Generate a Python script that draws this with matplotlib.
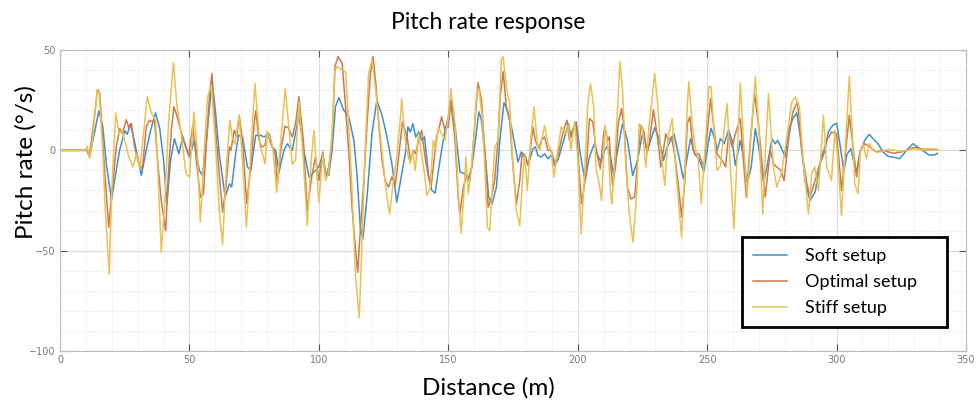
import matplotlib
matplotlib.use("Agg")
import matplotlib.pyplot as plt
from matplotlib.ticker import MultipleLocator

# ---- data ----
soft_x = [0, 10.5, 11.5, 13.5, 15, 16.5, 18, 19.9, 21.5, 23, 25, 26, 27.2, 29, 31.4, 33.3, 35, 36.9, 38.5, 40,
          41.3, 42.7, 44.2, 45.9, 47.4, 50, 51.9, 53.8, 55.1, 56.4, 58.7, 60, 61.5, 63.8, 65.4, 66.3, 68, 69,
          70.5, 72.4, 73.7, 75.6, 77.5, 78.8, 80.8, 82, 83.3, 84.6, 86.5, 87.8, 89.7, 92.3, 94.2, 96.2, 98.1,
          100, 101.5, 102.6, 103.8, 105.1, 106.4, 107.7, 109.6, 111.5, 113.5, 114.7, 116, 117, 118.6, 120.5,
          122.4, 124.4, 126.3, 128.2, 130.1, 132, 133.6, 134.4, 135.3, 136.3, 137.4, 138.5, 139.7, 140.8,
          142.3, 143.6, 144.9, 146.2, 147.4, 148.7, 150, 151, 152.6, 154.5, 156.4, 157.7, 159, 160.3, 161.8,
          162.8, 164.4, 165.6, 166.9, 168.6, 169.9, 171.5, 172.8, 174.4, 175.6, 176.9, 178.2, 179.7, 180.8,
          182.7, 183.6, 184.6, 185.9, 187.2, 188.5, 189.7, 191, 192.3, 194.2, 195.5, 196.4, 197.4, 199.4,
          201, 202.8, 204.5, 206.4, 207.7, 209, 210.3, 211.3, 212.2, 213.8, 215.4, 217.3, 219.2, 221.2,
          223.1, 225, 226.9, 228.2, 229.7, 231.4, 233.1, 234.6, 237.2, 239.1, 240.8, 242.3, 243.6, 245.1,
          246.8, 248.7, 250.6, 251.5, 252.6, 253.8, 255.1, 256.5, 258.3, 259.6, 260.9, 262.8, 264, 265.4,
          267, 268.6, 269.9, 271.8, 273.1, 275, 276.3, 277.2, 278.5, 280.1, 281.4, 283.1, 284.6, 286.2,
          287.8, 289.7, 291.7, 293.6, 295.5, 296.8, 298.5, 300, 301.3, 302.8, 304, 305.5, 306.5, 307.7,
          309.2, 310.9, 312.6, 313.5, 314.7, 316, 317.9, 319.9, 322.4, 324.4, 327, 329.5, 332, 336, 338, 339]
soft_y = [0, 0, -2.5, 10, 19.7, 12, -8, -24.7, -11.7, 0, 9.7, 8, 13.3, 3, -12.5, 0, 10, 18.7, 11, -5,
          -26.3, -5, 5.8, -1.7, 6.7, -3.3, 5.3, -10, -12.5, 3.3, 34.2, 20, -1.7, -23.3, -16.7, -18.3, 0, 7.5,
          6.7, -8.3, -10, 7.5, 7.5, 6.7, 8.3, 1.7, 0, -10.8, 0, 3.3, 0, 17.5, 0, -13.3, -10.8,
          -8.3, -1.7, -11.7, -12.5, 0, 21.7, 26.3, 20, 17, 5, -11.7, -38.3, -44.2, -23.3, 8.3,
          25, 17.5, 6.7, -6.7, -25.8, -11.7, 0, 11.7, 9.2, 13.3, 6.7, 9.2, 5, 6.7,
          -11.7, -20, -21.3, -10, 0, 10, 16.7, 25, 11.7, -10.8, -11.7, -14, -9, 3.3, 19.2,
          15, -5, -23.3, -26.7, -18.3, 5, 23.7, 20, 11.7, 3.3, -5.8, -0.8, -2.5, -7.5,
          0.8, 1.7, -2.5, -3.3, -1.7, -4.2, -2.5, -7.5, -5, 3.3, 9.2, 13.3, 6.7, 14.2,
          -2, -15, -3.3, 3.3, -2.5, -5.8, 0, 1.7, 0, -11.7, 0, 13.3, 5, -12.5,
          -5, 8.3, 0, 5, 11.3, 5.8, -5, 1.7, 8.3, -3.3, -14.2, -3.3, 5.8, -1.7,
          -4.2, -10.8, 5, 11, 6.7, 0, 5.8, 3.3, 10, 5, -7.5, 5, -3.3, -16.7,
          -8.3, 10.8, 1.7, -15.8, -8.3, 5.8, 3.3, 5, 1.7, -3.3, 10, 15.8, 18.7, 5,
          -15, -25, -20.8, -6.7, 0, 9.2, 12.5, 13.5, 3, -10.5, -2, 0.8, -5, -10.8,
          0, 5, 8, 6.7, 5, 3.3, -0.8, -3, -3.5, -4.2, 0, 3.3, 1, -2.5, -2.2, -1.5]

optimal_x = [0, 10.5, 11.3, 12.8, 14.5, 15.4, 16.7, 18.8, 20.5, 21.8, 23.1, 24.1, 25.6, 26.7, 27.6, 28.8,
             30.1, 31, 31.8, 32.5, 33.3, 34.6, 35.6, 36.5, 37.8, 39.1, 40.8, 42, 43, 44, 45.1, 46.8, 48.5,
             49.7, 51.3, 52.8, 54.2, 55.4, 56.7, 57.9, 58.7, 60, 61.5, 62.8, 64.1, 65.4, 66, 67.3, 68.3,
             69.2, 70.5, 72.1, 73.7, 75, 75.6, 76.9, 77.9, 79.2, 80.1, 81.4, 83.1, 84, 85.3, 86.9, 88.2,
             89.7, 91, 92.3, 94, 95.5, 97.2, 98.7, 100, 101.5, 102.6, 103.8, 105.1, 106.2, 107.4, 109,
             110.3, 111.5, 112.8, 114.1, 115, 116, 117.3, 118.6, 119.9, 120.9, 122, 123.1, 124.4, 125.6,
             126.9, 128.2, 129.5, 130.8, 132.3, 133.3, 134.3, 135.3, 136.5, 137.4, 138.5, 139.7, 141,
             142.3, 143.3, 144.2, 145.5, 146.4, 147.4, 148.5, 150, 151, 152.6, 153.8, 154.5, 155.8, 157.1,
             157.9, 159, 160.3, 161.5, 162.8, 164.1, 165.4, 166.7, 167.9, 169.2, 170.1, 171.2, 172.4,
             173.7, 175, 176.3, 177.6, 178.5, 179.7, 181, 182.7, 183.6, 184.9, 186, 187.2, 188.5, 189.7,
             191, 192.3, 193.6, 194.9, 195.9, 196.8, 198.1, 199.4, 200.6, 201.5, 203.2, 204.5, 205.8,
             207.1, 208.7, 210, 210.5, 211.5, 212.2, 212.8, 213.5, 214.7, 215.6, 216.9, 217.9, 219.2,
             220.5, 222, 223.1, 224.4, 225.6, 226.7, 227.6, 229.2, 230.8, 232.1, 233.1, 234, 234.9, 236.2,
             237.4, 239.1, 240.1, 241.3, 242.3, 243.3, 244.6, 245.5, 246.8, 247.7, 248.7, 250, 251.3,
             252.6, 253.8, 255.8, 257.1, 258.3, 259.6, 260.9, 262.8, 265.1, 266.7, 268.3, 269.9, 272.4,
             274.4, 275.6, 276.9, 278.5, 279.7, 281.4, 283.1, 284.9, 286.5, 288.5, 289.7, 291.7, 294.2,
             296.2, 298.1, 300, 301.9, 303.5, 304.9, 306.5, 307.7, 309.2, 310.9, 312.8, 315.4, 318, 322,
             326, 330, 334, 339]
optimal_y = [0, 0, -3.3, 11.7, 30.3, 28, 0, -38.3, -15, 2.5, 10.8, 8.3, 15.3, 10.8, 13.3, 1.7,
             -5, -7.5, -9.2, 0, 11.7, 15, 14.2, 15, -6.7, -25, -40, -8.3, 10, 21.7, 17.5, 9.2, 1.7,
             -2.5, 12.5, -6.7, -23.3, -21.7, 6.7, 30, 38.3, 11.7, -11.7, -30.8, -18.3, 1.7, 0, 10, 6.7,
             17.5, 5, -26.7, -8.3, 13.3, 19.7, 5, 1.7, 2.5, 9.2, 3.3, -1.7, -16.7, 0, 12, 11.3,
             6.7, 13.3, 26.7, 5, -30, -13.3, -3.3, -15, -0.8, -13.3, -8.3, 5, 41.7, 46.7, 43.3,
             21.7, 0, -28.3, -48.3, -60.8, -40, -16.7, 13.3, 38.3, 46.7, 33.3, 13.3, -5, -15,
             -18.3, -13.3, -17.5, -3.3, 14.2, 10, 5, -5, 0, -1.7, 5, 10, -3.3,
             -13.3, -18.3, -8.3, 6.7, 10.8, 16.7, 10.8, 11.7, 24, 5, -23.3, -31.7, -18.3, -12.5,
             -15, -8.3, 15, 33.7, 25, 0, -28.3, -23.3, -15, 5, 27.5, 39.2, 21.7,
             15, -8.3, -26.7, -15, -1.7, -4.2, -7.5, 11.7, 5, 0.8, 5, 6.7, 0, 0,
             -5.8, -3.3, 5, 11.7, 15, 5, 10.8, 13.3, -11.7, -26.7, -11.7, 15.8, 14.2,
             0, -9.2, 8.3, 11.7, 5, 6.7, -8.3, -17.5, -6.7, 13.3, 20.8, 11.7, -18.3,
             -24.2, -23.3, -5, 12.5, 9.2, -1.7, 3.3, 20.3, 6.7, -8.3, 0, 8.3, 5, 6.7,
             -1.7, -20, -33.3, -16.7, 13.3, 16.7, 0, -2.5, -1.7, -5, -8.3, 8.3, 25.8,
             11.7, -1.7, -5, -8.3, 8.3, 1.7, 8.3, 15.8, -23.3, 5, 28.3, 11.7, -23.3,
             0, -6.7, -8.3, -10, -15, 5, 19.2, 24.2, 0, -16.7, -23.3, -15, -3.3,
             5, 9.2, 8.3, -20, 0, 17.5, 0, -13.3, 0, 3.3, 1.7, -0.8, 0, -1.5,
             -0.5, 1.5, 0.5, 0.5]

stiff_x = [0, 10, 10.5, 11.5, 12.5, 14.4, 15.1, 16.5, 17.5, 19, 20, 21.5, 22.8, 24, 25, 26.5, 28.2, 29.5,
           30.8, 32, 33.7, 35.2, 36.9, 37.8, 39.1, 40.5, 42, 43.8, 45.2, 46.5, 48.7, 50, 51.7, 53, 54.2,
           55.5, 57, 58.4, 60, 61.5, 62.8, 64.2, 65.6, 66.5, 67.5, 69.2, 70.5, 72, 73.5, 75.3, 77.3, 78.5,
           79.2, 80.1, 81.5, 82.3, 83.7, 85.3, 87, 88.5, 89.7, 91, 92.3, 94, 95.5, 97, 98.1, 100, 101.5,
           102.6, 103.8, 105.1, 106.2, 107, 109, 110.3, 111.5, 112.8, 114.1, 115.6, 116.7, 118, 119.2,
           120.5, 121.8, 123.1, 125, 126.3, 127.3, 128.8, 130.1, 131.4, 132, 133.1, 134, 135.3, 136.2,
           137.2, 138.5, 139.5, 140.8, 141.7, 143, 144.2, 145.1, 146.2, 147.4, 148.7, 150, 151, 152.6,
           153.8, 154.9, 156.2, 156.8, 157.7, 158.7, 160, 160.9, 161.8, 163.1, 164.1, 165.1, 166, 167.3,
           168, 169.2, 170.5, 171.2, 172.4, 173.7, 175, 176.3, 177.6, 178.8, 179.5, 180.5, 181.8, 183.1,
           184.4, 185.3, 187.2, 188.5, 189.7, 190.8, 192.3, 193.6, 195.5, 196.4, 197.4, 198.7, 200, 201.3,
           202.6, 203.8, 204.9, 206.2, 207, 208.3, 209.2, 210, 210.5, 211.8, 212.8, 213.2, 214.4, 215.4,
           216.3, 217.3, 218.6, 219.9, 221.4, 222.8, 223.7, 225, 226.3, 227.6, 228.8, 229.7, 231, 232,
           233.6, 234.9, 236.5, 237.8, 239.1, 240.1, 241.3, 242.3, 242.9, 244.2, 245.5, 246.4, 247.7,
           249.4, 250.6, 251.5, 252.6, 253.8, 255.1, 256.5, 257.7, 258.8, 260.3, 261.5, 262.8, 264, 265.4,
           266.8, 268.6, 270, 271.5, 272.5, 273.7, 275.6, 276.9, 278.8, 280.8, 282.7, 284, 285.6, 287.2,
           288.5, 289.1, 290.4, 291.5, 293, 294.9, 296.2, 298, 299.4, 300.5, 301.9, 303.5, 304.9, 306.2,
           307, 308.3, 309.2, 310.3, 311.5, 312.6, 314, 316, 320, 325, 330, 335, 339]
stiff_y = [0, 0, 2, -4, 5, 30.3, 30, 0, -30, -61.7, -20, 18.7, 8.3, 10, 5, -3, -8.3, -1.7,
           -9, 5, 26.7, 19, 15, -10, -50.8, -25, 15, 43.7, 21.7, 11, -11.7, -13.3, 19, 0, -35.8,
           -5, 26.7, 32.5, 5, -30, -47, -10, 15, 7, 3, 17.5, -5, -38.3, -5, 33.3, 1.7, -3,
           -6.7, 9.2, 5, 0, -20.8, 5, 30.8, 10, -6.7, -5, 24, -5, -37.5, -5, 10, -26, -1.7,
           -15, -10.8, 8.3, 40, 41.7, 40, 39, 13.3, -20, -61.7, -83.3, -45, 5, 38.3,
           45, 31.7, 15, -8.3, -23.3, -31.7, -15, -3.3, 15, 25.8, 8.3, 0, -6.7, 0,
           -10, 8.3, 0, -11.7, -22.5, -18.3, 5, 0, 11.7, 8.3, 5, 16.7, 30.8, 13.3,
           -20, -41.3, -18.3, -3.3, -21.7, -11.7, 8.3, 28.3, 30.8, 16.7, -8.3, -38.3, -40, -11.7,
           1.7, 5, 45, 46.7, 31.7, 23.3, -8.3, -30, -37.5, -11.7, -1.7, -20, 5, 21.7,
           3.3, 0, 12.5, 3.3, 0, -13.3, 0, 11.7, 8.3, 12.5, 0, 14.2, -3.3, -41.7,
           -11.7, 21.7, 33.3, 21.7, -8.3, -16.7, -25, -3.3, 12.5, 0, -23.3, -26.7, -1.7, 21.7,
           44.2, 30, -8.3, -31.7, -45.8, -20, 13.3, 10, -8.3, 13.3, 26.7, 38.3, 21.7, 0,
           -17.5, 6.7, 15.8, -8.3, -28.3, -43.3, -11.7, 21.7, 34.2, 13.3, 0, -3.3, -26.7,
           5, 31.7, 31.7, 10, -10, -8, 10, 23.3, -5, -39.2, -5, 33.3, 5, -23.3,
           5, 36.7, 10, -31.7, 0, 28.3, -8.3, -18.3, -10.8, 6.7, 24.2, 26.7, 21.7, -6.7,
           -23.3, -31.7, -11.7, -8.3, -20, 17.5, -8.3, -15, 10, -5, -32.5, 5, 37, 5,
           -16.7, -21.7, 0, 3.3, -4.2, 3.3, 0, -1, 0.5, -0.5, 0.8, 0, 0.3]

series_labels = ["Soft setup", "Optimal setup", "Stiff setup"]
series_colors = ["#4490c6", "#c97b50", "#e8c255"]
x_ticks = [0, 50, 100, 150, 200, 250, 300, 350]
y_ticks = [-100, -50, 0, 50]

# ---- figure ----
fig = plt.figure(figsize=(9.76, 4.05), dpi=100)
ax = fig.add_axes([0.0615, 0.1333, 0.9283, 0.7432])

for xs, ys, lab, col in zip([soft_x, optimal_x, stiff_x], [soft_y, optimal_y, stiff_y],
                            series_labels, series_colors):
    ax.plot(xs, ys, color=col, lw=1.1, label=lab, solid_joinstyle="round")

ax.set_xlim(0, 350)
ax.set_ylim(-100, 50)
ax.set_xticks(x_ticks)
ax.set_yticks(y_ticks)
ax.xaxis.set_minor_locator(MultipleLocator(10))
ax.yaxis.set_minor_locator(MultipleLocator(10))
ax.grid(which="major", color="#dcdcdc", lw=0.8)
ax.grid(which="minor", color="#e6e6e6", lw=0.6, ls=(0, (1.5, 1.5)))
ax.set_axisbelow(True)
ax.tick_params(which="major", direction="in", length=5, width=0.8, color="#555555",
               top=True, right=True, labelsize=7, labelcolor="#7a7a7a", pad=3)
ax.tick_params(which="minor", length=0)
for s in ax.spines.values():
    s.set_color("#bdbdbd")
    s.set_linewidth(0.8)

fig.text(0.5, 0.944, "Pitch rate response", ha="center", va="center",
         family="Lato", fontsize=16.5)
fig.text(0.5, 0.042, "Distance (m)", ha="center", va="center",
         family="Lato", fontsize=17.5)
fig.text(0.026, 0.6, "Pitch rate (°/s)", ha="center", va="center", rotation=90,
         family="Lato", fontsize=17.5)

leg = ax.legend(loc="lower left", bbox_to_anchor=(0.753, 0.08, 0.226, 0.295), mode="expand",
                borderaxespad=0, fancybox=False, edgecolor="black", framealpha=1,
                prop={"family": "Lato", "size": 13}, handlelength=1.9, handletextpad=1.0,
                labelspacing=0.55, borderpad=0.6)
leg.get_frame().set_linewidth(2)

fig.savefig("out.png", dpi=100)
